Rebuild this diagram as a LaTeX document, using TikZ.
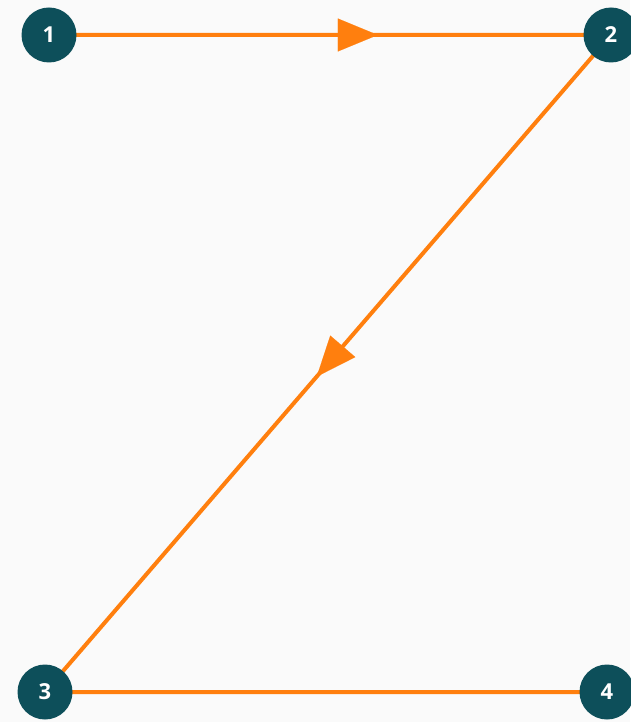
\documentclass[tikz,border=0pt]{standalone}
\usepackage{fontspec}
\setmainfont{Open Sans}
\usetikzlibrary{arrows.meta,calc}
\definecolor{bgc}{HTML}{FAFAFA}
\definecolor{teal}{HTML}{0D4F5A}
\definecolor{orng}{HTML}{FF7F0E}
\begin{document}
\begin{tikzpicture}[x=1pt,y=-1pt,
  pt/.style={circle,fill=teal,minimum size=55pt,inner sep=0pt,text=white,font=\bfseries\fontsize{22}{22}\selectfont},
  edge/.style={draw=orng,line width=4pt},
  head/.style={orng,line width=0.1pt,-{Triangle[length=40pt,width=33pt]}}]
\fill[bgc] (0,0) rectangle (630,722);
\useasboundingbox (0,0) rectangle (630,722);
\coordinate (c1) at (49,35);
\coordinate (c2) at (611,35);
\coordinate (c3) at (45,692);
\coordinate (c4) at (607,692);
\draw[edge] (c1) -- (c2) -- (c3) -- (c4);
\draw[head] ($(c1)!0.55!(c2)$) -- ($(c1)!0.585!(c2)$);
\draw[head] ($(c2)!0.50!(c3)$) -- ($(c2)!0.52!(c3)$);
\node[pt] (n1) at (c1) {1};
\node[pt] (n2) at (c2) {2};
\node[pt] (n3) at (c3) {3};
\node[pt] (n4) at (c4) {4};
\end{tikzpicture}
\end{document}
